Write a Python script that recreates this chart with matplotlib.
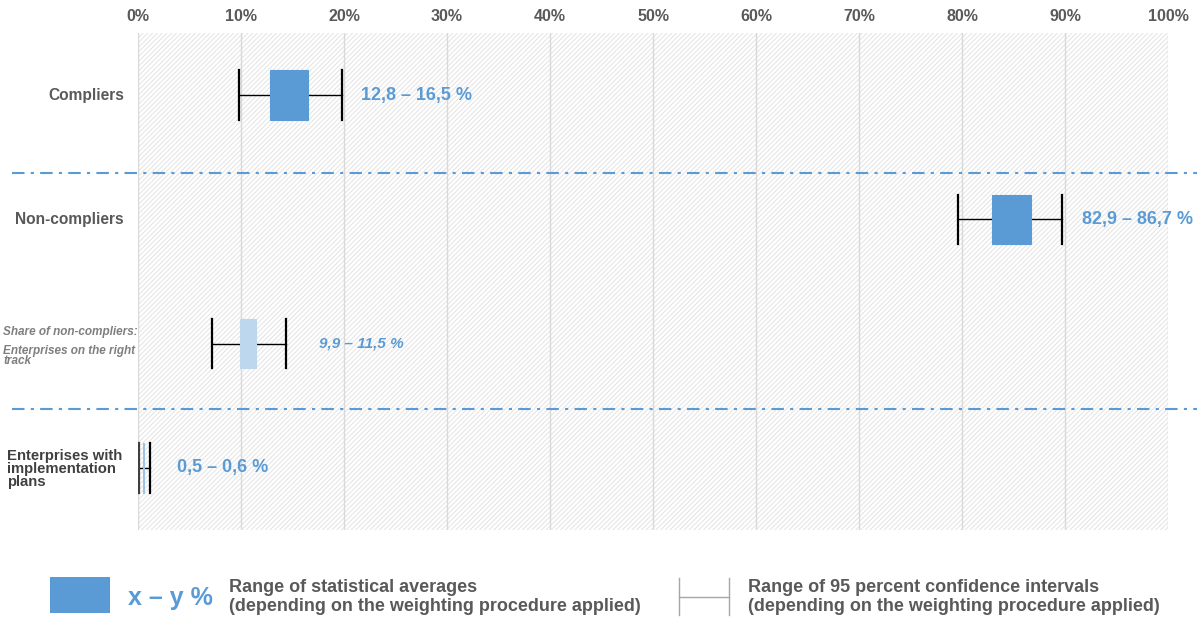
import matplotlib.pyplot as plt
from matplotlib.patches import Rectangle
from matplotlib.lines import Line2D
import matplotlib.transforms as mtransforms

# data (percent)
groups = ["Compliers", "Non-compliers", "Share of non-compliers", "Enterprises with implementation plans"]
avg_low = [12.8, 82.9, 9.9, 0.5]
avg_high = [16.5, 86.7, 11.5, 0.6]
ci_low = [9.8, 79.6, 7.2, 0.1]
ci_high = [19.8, 89.7, 14.4, 1.2]
x_ticks = [0, 10, 20, 30, 40, 50, 60, 70, 80, 90, 100]

blue = "#5b9bd5"
light_blue = "#bdd7ee"
grey_text = "#595959"
box_colors = [blue, blue, light_blue, "#9dc3e6"]
label_offsets = [19, 20, 33, 27]  # px right of upper CI
label_styles = ["normal", "normal", "italic", "normal"]
label_sizes = [13, 13, 11, 13]

plt.rcParams["font.family"] = ["Liberation Sans", "DejaVu Sans"]
plt.rcParams["hatch.linewidth"] = 0.7
plt.rcParams["hatch.color"] = "#e3e3e3"

fig = plt.figure(figsize=(11.97, 6.19), dpi=100)
ax = fig.add_axes([138 / 1197, 1 - 530 / 619, 1030 / 1197, 497 / 619])

ax.set_xlim(0, 100)
ax.set_ylim(4, 0)

# hatched background
ax.add_patch(Rectangle((0, 0), 100, 4, facecolor="white", edgecolor="#e3e3e3",
                       hatch="///////", linewidth=0, zorder=0))
for spine in ax.spines.values():
    spine.set_visible(False)

for x in x_ticks:
    ax.axvline(x, color="#d9d9d9", linewidth=1.0, zorder=1)

ax.xaxis.tick_top()
ax.set_xticks(x_ticks)
ax.set_xticklabels([f"{x}%" for x in x_ticks], fontsize=11.5, fontweight="bold", color=grey_text)
ax.tick_params(axis="x", length=0, pad=6.5)
ax.set_yticks([])

half = 0.2
for i in range(len(groups)):
    yc = i + 0.5
    ax.add_patch(Rectangle((avg_low[i], yc - half), avg_high[i] - avg_low[i], 2 * half,
                           facecolor=box_colors[i], edgecolor=box_colors[i], linewidth=0.8,
                           zorder=4))
    ax.plot([ci_low[i], avg_low[i]], [yc, yc], color="black", linewidth=1.0, zorder=3)
    ax.plot([avg_high[i], ci_high[i]], [yc, yc], color="black", linewidth=1.0, zorder=3)
    cap_color = "#404040" if i == 3 else "black"
    ax.plot([ci_low[i], ci_low[i]], [yc - half, yc + half], color=cap_color, linewidth=1.6, zorder=5)
    ax.plot([ci_high[i], ci_high[i]], [yc - half, yc + half], color="black", linewidth=1.6, zorder=5)

    lo = f"{avg_low[i]:.1f}".replace(".", ",")
    hi = f"{avg_high[i]:.1f}".replace(".", ",")
    ax.annotate(f"{lo} – {hi} %", xy=(ci_high[i], yc), xytext=(label_offsets[i] * 0.72, 0),
                textcoords="offset points", ha="left", va="center", color=blue,
                fontsize=label_sizes[i], fontweight="bold", fontstyle=label_styles[i])

# row labels on the left
lab = mtransforms.blended_transform_factory(fig.transFigure, ax.transData)
fig_x = lambda px: px / 1197
ax.text(fig_x(124), 0.5, groups[0], transform=lab, ha="right", va="center",
        fontsize=11.2, fontweight="bold", color=grey_text)
ax.text(fig_x(124), 1.5, groups[1], transform=lab, ha="right", va="center",
        fontsize=11.2, fontweight="bold", color=grey_text)
ax.text(fig_x(3), 2.41, groups[2] + ":", transform=lab, ha="left", va="center",
        fontsize=8.5, fontweight="bold", fontstyle="italic", color="#7f7f7f")
ax.text(fig_x(3), 2.6, "Enterprises on the right\ntrack", transform=lab, ha="left", va="center",
        fontsize=8.5, fontweight="bold", fontstyle="italic", color="#7f7f7f", linespacing=0.8)
ax.text(fig_x(7), 3.51, "Enterprises with\nimplementation\nplans", transform=lab, ha="left",
        va="center", fontsize=10.7, fontweight="bold", color="#404040", linespacing=0.92)

# dash-dot separators
for ysep in [1.13, 3.03]:
    ax.axhline(ysep, xmin=(12 - 138) / 1030, xmax=(1197 - 138) / 1030, color=blue,
               linewidth=1.5, linestyle=(0, (6, 3, 1.5, 3)), clip_on=False, zorder=6)

# legend
fig.patches.append(Rectangle((50 / 1197, 1 - 613 / 619), 60 / 1197, 36 / 619,
                             transform=fig.transFigure, facecolor=blue, edgecolor="none"))
fig.text(128 / 1197, 1 - 598 / 619, "x – y %", ha="left", va="center", fontsize=18,
         fontweight="bold", color=blue)
legend_text = "(depending on the weighting procedure applied)"
fig.text(229 / 1197, 1 - 597 / 619, "Range of statistical averages\n" + legend_text,
         ha="left", va="center", fontsize=13, fontweight="bold", color=grey_text,
         linespacing=1.1)
for px in [679, 729]:
    fig.lines.append(Line2D([px / 1197, px / 1197], [1 - 615 / 619, 1 - 578 / 619],
                            transform=fig.transFigure, color="#a6a6a6", linewidth=1))
fig.lines.append(Line2D([679 / 1197, 729 / 1197], [1 - 597 / 619, 1 - 597 / 619],
                        transform=fig.transFigure, color="#a6a6a6", linewidth=1))
fig.text(748 / 1197, 1 - 597 / 619, "Range of 95 percent confidence intervals\n" + legend_text,
         ha="left", va="center", fontsize=13, fontweight="bold", color=grey_text,
         linespacing=1.1)

fig.savefig("out.png", dpi=100)
